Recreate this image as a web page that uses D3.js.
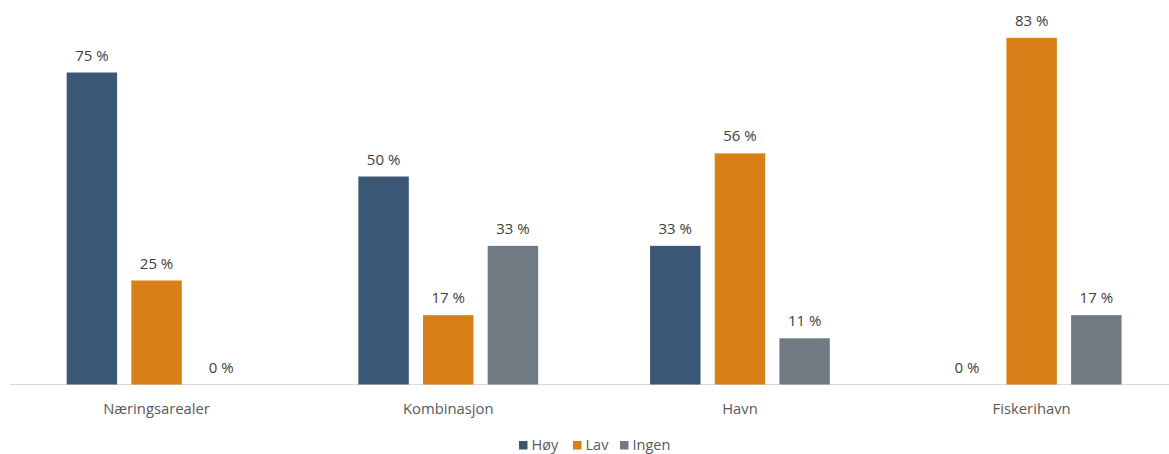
<!DOCTYPE html>
<html>
<head>
<meta charset="utf-8">
<style>
  body { margin: 0; background: #fff; }
  svg { display: block; font-family: "Open Sans", sans-serif; }
  .label { font-size: 15px; fill: #404040; }
  .cat { font-size: 14.8px; fill: #595959; }
  .legend text { font-size: 14.5px; fill: #595959; }
</style>
</head>
<body>
<svg width="1169" height="454"></svg>
<script src="https://d3js.org/d3.v7.min.js"></script>
<script>
const categories = ["Næringsarealer", "Kombinasjon", "Havn", "Fiskerihavn"];
const seriesNames = ["Høy", "Lav", "Ingen"];
const hoy = [75, 50, 33.33, 0];
const lav = [25, 16.67, 55.56, 83.33];
const ingen = [0, 33.33, 11.11, 16.67];
const colors = ["#3a5775", "#d97f17", "#717a82"];

const seriesValues = [hoy, lav, ingen];
const width = 1169, height = 454;
const svg = d3.select("svg");

const x0 = d3.scaleBand().domain(categories).range([10.7, 1177.5]);
const x1 = d3.scaleBand().domain(seriesNames).range([0, 194]).paddingInner(0.22).paddingOuter(0.11);
const y = d3.scaleLinear().domain([0, 100]).range([384.5, 384.5 - 416]);

const data = categories.map((c, i) => ({
  cat: c,
  vals: seriesNames.map((s, j) => ({ s, v: seriesValues[j][i], color: colors[j] }))
}));

// axis line
svg.append("line")
  .attr("x1", 10).attr("x2", width)
  .attr("y1", y(0)).attr("y2", y(0))
  .attr("stroke", "#d9d9d9").attr("stroke-width", 1);

const groups = svg.selectAll("g.grp").data(data).enter().append("g")
  .attr("class", "grp")
  .attr("transform", d => `translate(${x0(d.cat) + x0.bandwidth() / 2 - 97},0)`);

groups.selectAll("rect").data(d => d.vals).enter().append("rect")
  .attr("x", d => x1(d.s))
  .attr("width", x1.bandwidth())
  .attr("y", d => y(d.v))
  .attr("height", d => y(0) - y(d.v))
  .attr("fill", d => d.color);

groups.selectAll("text.label").data(d => d.vals).enter().append("text")
  .attr("class", "label")
  .attr("text-anchor", "middle")
  .attr("x", d => x1(d.s) + x1.bandwidth() / 2)
  .attr("y", d => y(d.v) - 12)
  .text(d => Math.round(d.v) + " %");

svg.selectAll("text.cat").data(categories).enter().append("text")
  .attr("class", "cat")
  .attr("text-anchor", "middle")
  .attr("x", d => x0(d) + x0.bandwidth() / 2)
  .attr("y", 414)
  .text(d => d);

// legend
const legendX = [519, 573, 620];
const legend = svg.append("g").attr("class", "legend");
seriesNames.forEach((s, i) => {
  legend.append("rect").attr("x", legendX[i]).attr("y", 441).attr("width", 8.5).attr("height", 8.5).attr("fill", colors[i]);
  legend.append("text").attr("x", legendX[i] + 12.5).attr("y", 450).text(s);
});
</script>
</body>
</html>
